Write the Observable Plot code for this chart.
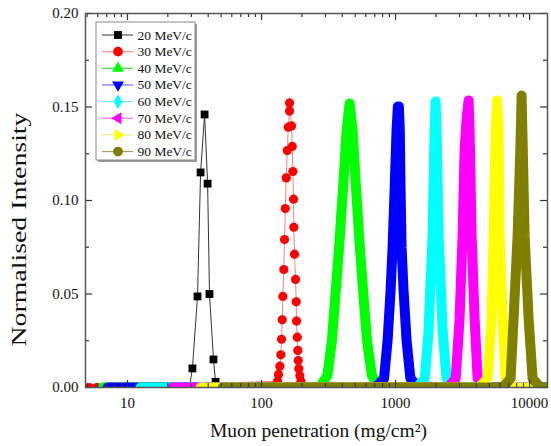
<!DOCTYPE html>
<html><head><meta charset="utf-8">
<script src="https://cdn.jsdelivr.net/npm/d3@7"></script>
<script src="https://cdn.jsdelivr.net/npm/@observablehq/plot@0.6"></script>
<style>body{margin:0;background:#fff} #chart{width:551px;height:446px}</style>
</head><body><div id="chart"></div><script>
// ---- data (x in mg/cm², y normalised intensity) ----
const labels = ["20 MeV/c","30 MeV/c","40 MeV/c","50 MeV/c","60 MeV/c","70 MeV/c","80 MeV/c","90 MeV/c"];
const colors = ["#000000","#ff0000","#00ff00","#0000ff","#00ffff","#ff00ff","#ffff00","#808000"];
const legendLineColors = ["#555555","#ff9090","#40dd40","#7070ff","#60eeee","#ff70ff","#eeee80","#b09a60"];

const mev20 = [[29,0],[30.5,0.0102],[33.3,0.0487],[35.1,0.115],[37.6,0.146],[39.6,0.109],[40.9,0.050],[43.8,0.015],[45.4,0.003],[47,0]];
const mev30 = [[5.2,0],[5.9,0],[131.6,0.0034],[133.9,0.0070],[137,0.0114],[139.3,0.0175],[141,0.0258],[142.7,0.0362],[144.2,0.0487],[146.7,0.0631],[148.4,0.0791],[150.3,0.0957],[152.9,0.1121],[155.6,0.1267],[158.3,0.1392],[161.8,0.1478],[161.8,0.1522],[167.4,0.1399],[169.5,0.1289],[171.3,0.1155],[173.3,0.1007],[174.2,0.0857],[176.2,0.0713],[179.3,0.0578],[181.5,0.0458],[182.5,0.0355],[184.7,0.0269],[186.6,0.0198],[187.9,0.0144],[189.8,0.0100],[193.1,0.0063],[196.5,0.0034]];
const mev40 = [[6.5,0],[270,0],[310,0.0064],[335,0.0251],[358,0.0519],[382,0.0786],[409,0.1107],[431,0.1374],[454,0.1519],[478,0.1374],[503,0.1107],[537,0.0786],[572,0.0519],[612,0.0251],[665,0.0064],[760,0],[13600,0]];
const mev50 = [[7.1,0],[705,0],[820,0.0048],[872,0.0251],[918,0.0519],[950,0.0749],[983,0.1053],[1017,0.1374],[1040,0.1503],[1058,0.1503],[1075,0.1374],[1090,0.1053],[1109,0.0749],[1147,0.0519],[1208,0.0251],[1290,0.0048],[1500,0],[13600,0]];
const mev60 = [[12.5,0],[1445,0],[1650,0.0048],[1764,0.0305],[1825,0.0572],[1889,0.0813],[1922,0.1107],[1955,0.1374],[1989,0.1529],[2023,0.1374],[2058,0.1107],[2094,0.0813],[2167,0.0572],[2243,0.0305],[2400,0.0048],[2790,0],[13600,0]];
const mev70 = [[21.7,0],[2460,0],[2810,0.0048],[3003,0.0369],[3162,0.0813],[3273,0.1267],[3387,0.1439],[3506,0.1535],[3567,0.1374],[3692,0.0813],[3887,0.0369],[4093,0.0048],[4680,0],[13600,0]];
const mev80 = [[35.1,0],[4180,0],[4860,0.0048],[5203,0.0369],[5385,0.0813],[5574,0.1374],[5720,0.1535],[5870,0.1374],[5972,0.0813],[6288,0.0369],[6622,0.0048],[7560,0],[11500,0]];
const mev90 = [[51.2,0],[6300,0],[7214,0.0048],[7596,0.0369],[8138,0.0813],[8566,0.1321],[8715,0.1561],[8867,0.1321],[9179,0.0813],[9829,0.0369],[10529,0.0048],[12000,0],[13100,0]];

const xMajor = [10,100,1000,10000];
const xMinor = [5,6,7,8,9,20,30,40,50,60,70,80,90,200,300,400,500,600,700,800,900,2000,3000,4000,5000,6000,7000,8000,9000];
const yMajor = [0,0.05,0.10,0.15,0.20];
const yMinor = [0.025,0.075,0.125,0.175];

// ---- symbols ----
const sqrt3 = Math.sqrt(3);
function tri(rot){return {draw(ctx,size){const y=-Math.sqrt(size/(sqrt3*3));const c=Math.cos(rot),s=Math.sin(rot);
  [[0,y*2],[-sqrt3*y,-y],[sqrt3*y,-y]].forEach(([a,b],i)=>{const X=a*c-b*s,Y=a*s+b*c; i?ctx.lineTo(X,Y):ctx.moveTo(X,Y);});ctx.closePath();}};}
const symbols = [d3.symbolSquare, d3.symbolCircle, d3.symbolTriangle, tri(Math.PI), d3.symbolDiamond, tri(-Math.PI/2), tri(Math.PI/2), d3.symbolCircle];

const W=551,H=446,mL=85,mR=4,mT=13,mB=59;
const pw=W-mL-mR, ph=H-mT-mB;
const X = d=>d[0], Y = d=>d[1];
const band = (data,i)=>Plot.line(data,{x:X,y:Y,stroke:colors[i],strokeWidth:10,strokeLinejoin:"round",clip:true});
const serif = "'Liberation Serif', 'Times New Roman', serif";

const plot = Plot.plot({
  width:W,height:H,marginLeft:mL,marginRight:mR,marginTop:mT,marginBottom:mB,
  x:{type:"log",domain:[4.86,13600]},
  y:{domain:[0,0.2]},
  style:{fontFamily:serif,fontSize:"15px",background:"white",color:"#111"},
  marks:[
    Plot.line(mev20,{x:X,y:Y,stroke:"#333",strokeWidth:1,clip:true}),
    Plot.dot(mev20,{x:X,y:Y,symbol:"square",r:4.4,fill:"#000",clip:true}),
    Plot.line(mev30,{x:X,y:Y,stroke:"#ff8080",strokeWidth:1,clip:true}),
    Plot.dot(mev30,{x:X,y:Y,symbol:"circle",r:4.6,fill:"#ff0000",clip:true}),
    band(mev40,2),band(mev50,3),band(mev60,4),band(mev70,5),band(mev80,6),band(mev90,7),
    Plot.tickY(yMajor,{y:d=>d,insetRight:pw-7,stroke:"#333",strokeWidth:1.2}),
    Plot.tickY(yMinor,{y:d=>d,insetRight:pw-4,stroke:"#333",strokeWidth:1.2}),
    Plot.tickY(yMajor,{y:d=>d,insetLeft:pw-7,stroke:"#333",strokeWidth:1.2}),
    Plot.tickY(yMinor,{y:d=>d,insetLeft:pw-4,stroke:"#333",strokeWidth:1.2}),
    Plot.tickX(xMajor,{x:d=>d,insetTop:ph-7,stroke:"#333",strokeWidth:1.2}),
    Plot.tickX(xMinor,{x:d=>d,insetTop:ph-4,stroke:"#333",strokeWidth:1.2}),
    Plot.tickX(xMajor,{x:d=>d,insetBottom:ph-7,stroke:"#333",strokeWidth:1.2}),
    Plot.tickX(xMinor,{x:d=>d,insetBottom:ph-4,stroke:"#333",strokeWidth:1.2}),
    Plot.frame({stroke:"#555",strokeWidth:1.5}),
    Plot.axisX({ticks:xMajor,tickSize:0,tickPadding:10,tickFormat:d=>String(d),label:null,fontSize:15,fontFamily:serif}),
    Plot.axisY({ticks:yMajor,tickSize:0,tickPadding:7,tickFormat:d=>d.toFixed(2),label:null,fontSize:15,fontFamily:serif}),
    Plot.text(["Muon penetration (mg/cm²)"],{text:d=>d,frameAnchor:"bottom",dx:2,dy:49,fontSize:19.5,fill:"#111",fontFamily:serif}),
    Plot.text(["Normalised Intensity"],{text:d=>d,frameAnchor:"left",textAnchor:"middle",dx:-66,dy:29,rotate:-90,fontSize:20,fill:"#111",fontFamily:serif,className:"ytitle"})
  ]
});
document.getElementById("chart").appendChild(plot);

const svg = d3.select(plot);
// stretch the y title to the length it has in the reference
svg.selectAll(".ytitle text").attr("textLength",234).attr("lengthAdjust","spacingAndGlyphs");

// ---- legend ----
const lg = svg.append("g").attr("text-anchor","start");
lg.append("rect").attr("x",98).attr("y",24).attr("width",99).attr("height",138).attr("fill","#9a9a9a");
lg.append("rect").attr("x",96).attr("y",22).attr("width",99).attr("height",138).attr("fill","#fff").attr("stroke","#888").attr("stroke-width",1);
labels.forEach((t,i)=>{
  const yy = 35 + i*16.65;
  lg.append("line").attr("x1",102).attr("x2",133).attr("y1",yy).attr("y2",yy).attr("stroke",legendLineColors[i]).attr("stroke-width",1.2);
  lg.append("path").attr("d",d3.symbol().type(symbols[i]).size(i===1||i===7?75:62)()).attr("transform",`translate(118,${yy})`).attr("fill",colors[i]);
  lg.append("text").attr("x",137.5).attr("y",yy+4.5).attr("text-anchor","start").attr("font-size",13.5).attr("font-family",serif).attr("fill","#111").text(t);
});
</script></body></html>
